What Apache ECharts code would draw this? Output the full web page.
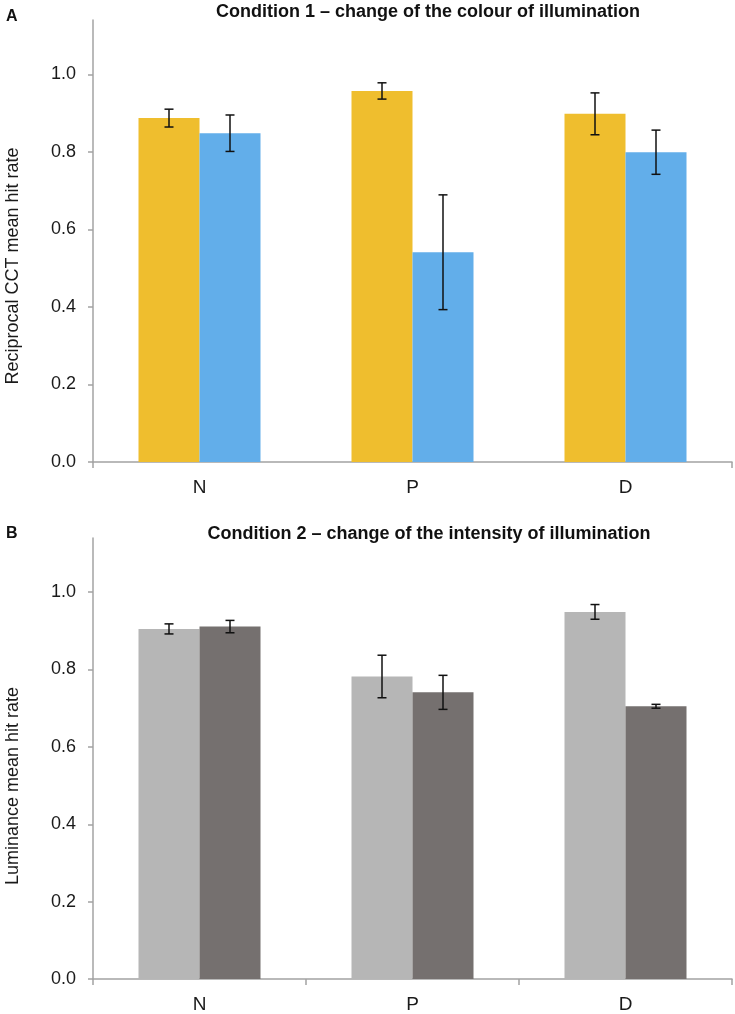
<!DOCTYPE html>
<html lang="en">
<head>
    <meta charset="UTF-8">
    <title>Condition 1 and 2</title>
    <style>
        html, body { margin: 0; padding: 0; background: #fff; }
    </style>
</head>
<body>
<div id="main" style="width:735px;height:1014px;"></div>
<script src="https://cdn.jsdelivr.net/npm/echarts@6.0.0/dist/echarts.min.js"></script>
<script>
    // data
    var categories = ['N', 'P', 'D'];
    var yTicks = [0, 0.2, 0.4, 0.6, 0.8, 1.0];

    // panel A - colour of illumination
    var cctYellow = [0.887, 0.957, 0.898];
    var cctYellowErr = [0.023, 0.021, 0.054];
    var cctBlue = [0.848, 0.541, 0.799];
    var cctBlueErr = [0.047, 0.148, 0.057];

    // panel B - intensity of illumination
    var lumLight = [0.905, 0.782, 0.949];
    var lumLightErr = [0.013, 0.055, 0.019];
    var lumDark = [0.911, 0.741, 0.705];
    var lumDarkErr = [0.016, 0.044, 0.005];

    var axisGray = '#a3a3a3';
    var font = '"Liberation Sans", Arial, sans-serif';
    var barW = 61;

    function errData(mean, err) {
        return mean.map(function (m, i) {
            return [i, m - err[i], m + err[i]];
        });
    }

    // error bar with caps, shifted onto its bar
    function errRender(offset) {
        return function (params, api) {
            var lo = api.coord([api.value(0), api.value(1)]);
            var hi = api.coord([api.value(0), api.value(2)]);
            var x = lo[0] + offset;
            var st = { stroke: '#111', lineWidth: 1.5 };
            return {
                type: 'group',
                children: [
                    { type: 'line', shape: { x1: x, y1: lo[1], x2: x, y2: hi[1] }, style: st },
                    { type: 'line', shape: { x1: x - 4.5, y1: lo[1], x2: x + 4.5, y2: lo[1] }, style: st },
                    { type: 'line', shape: { x1: x - 4.5, y1: hi[1], x2: x + 4.5, y2: hi[1] }, style: st }
                ]
            };
        };
    }

    function xAxisCfg(idx, allTicks) {
        return {
            type: 'category',
            gridIndex: idx,
            data: categories,
            axisLine: { lineStyle: { color: axisGray, width: 1.5 } },
            axisTick: {
                show: true,
                length: 6,
                interval: allTicks ? 0 : function (i) { return i === 0; },
                lineStyle: { color: axisGray, width: 1.5 }
            },
            axisLabel: { color: '#1a1a1a', fontSize: 19, fontFamily: font, margin: 16 }
        };
    }

    function yAxisCfg(idx) {
        return {
            type: 'value',
            gridIndex: idx,
            min: 0,
            max: 1.14,
            splitLine: { show: false },
            axisLine: { show: true, lineStyle: { color: axisGray, width: 1.5 } },
            axisTick: { show: true, length: 5, customValues: yTicks, lineStyle: { color: axisGray, width: 1.5 } },
            axisLabel: {
                customValues: yTicks,
                color: '#1a1a1a',
                fontSize: 18,
                fontFamily: font,
                margin: 17,
                formatter: function (v) { return v.toFixed(1); }
            }
        };
    }

    function barSeries(name, data, color, idx) {
        return {
            name: name,
            type: 'bar',
            xAxisIndex: idx,
            yAxisIndex: idx,
            barWidth: barW,
            barGap: '0%',
            itemStyle: { color: color },
            data: data
        };
    }

    function errSeries(mean, err, offset, idx) {
        return {
            type: 'custom',
            xAxisIndex: idx,
            yAxisIndex: idx,
            renderItem: errRender(offset),
            encode: { x: 0, y: [1, 2] },
            z: 5,
            data: errData(mean, err)
        };
    }

    var myChart = echarts.init(document.getElementById('main'));

    var titleStyle = { color: '#111', fontSize: 18, fontWeight: 'bold', fontFamily: font };
    var letterStyle = { color: '#111', fontSize: 16, fontWeight: 'bold', fontFamily: font };

    var option = {
        backgroundColor: '#fff',
        animation: false,
        title: [
            { text: 'Condition 1 \u2013 change of the colour of illumination', left: 423, top: -2, textAlign: 'center', textStyle: titleStyle },
            { text: 'Condition 2 \u2013 change of the intensity of illumination', left: 424, top: 520, textAlign: 'center', textStyle: titleStyle },
            { text: 'A', left: 1, top: 4, textStyle: letterStyle },
            { text: 'B', left: 1, top: 521, textStyle: letterStyle }
        ],
        graphic: [
            {
                type: 'text', x: 13, y: 266, rotation: Math.PI / 2,
                style: { text: 'Reciprocal CCT mean hit rate', fill: '#1a1a1a', font: '18px ' + font, textAlign: 'center', textVerticalAlign: 'middle' }
            },
            {
                type: 'text', x: 13, y: 786, rotation: Math.PI / 2,
                style: { text: 'Luminance mean hit rate', fill: '#1a1a1a', font: '18px ' + font, textAlign: 'center', textVerticalAlign: 'middle' }
            }
        ],
        grid: [
            { left: 93, right: 3, top: 20, height: 442 },
            { left: 93, right: 3, top: 538, height: 444 }
        ],
        xAxis: [xAxisCfg(0, false), xAxisCfg(1, true)],
        yAxis: [yAxisCfg(0), yAxisCfg(1)],
        series: [
            barSeries('yellow', cctYellow, '#efbe2e', 0),
            barSeries('blue', cctBlue, '#62aeea', 0),
            errSeries(cctYellow, cctYellowErr, -barW / 2, 0),
            errSeries(cctBlue, cctBlueErr, barW / 2, 0),
            barSeries('light', lumLight, '#b6b6b6', 1),
            barSeries('dark', lumDark, '#75706f', 1),
            errSeries(lumLight, lumLightErr, -barW / 2, 1),
            errSeries(lumDark, lumDarkErr, barW / 2, 1)
        ]
    };
    myChart.setOption(option);
</script>
</body>
</html>
